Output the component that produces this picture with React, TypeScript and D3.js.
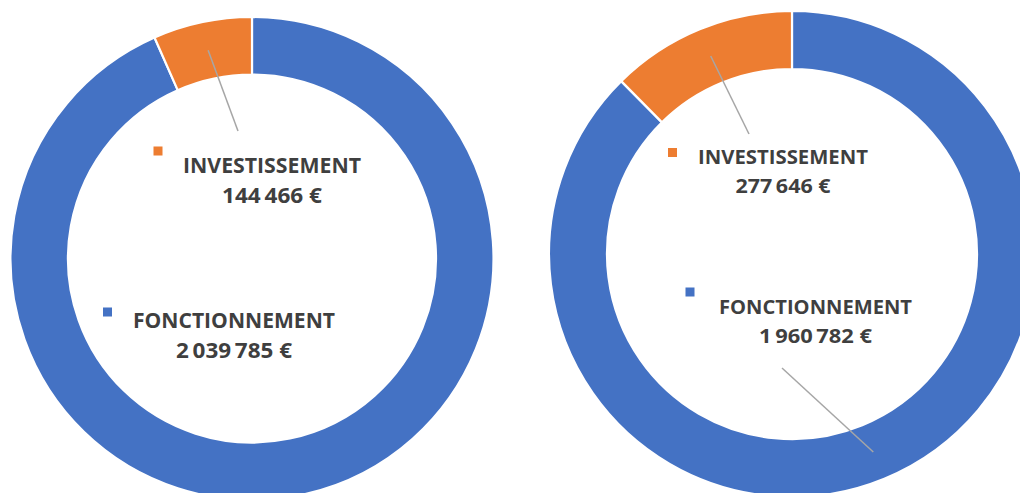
import React from "react";
import * as d3 from "d3";

const categories = ["FONCTIONNEMENT", "INVESTISSEMENT"];
const valuesLeft = [2039785, 144466];
const valuesRight = [1960782, 277646];
const colors = ["#4472C4", "#ED7D31"];

const fr = d3.formatLocale({
  decimal: ",",
  thousands: "\u2009",
  grouping: [3],
  currency: ["", "\u00a0€"],
});
const fmt = (v: number) => fr.format(",.0f")(v) + " €";

type LabelCfg = {
  cx: number;
  b1: number;
  b2: number;
  mx: number;
  my: number;
  w1: number;
  w2: number;
  leader: [number, number] | null;
};

type ChartCfg = {
  values: number[];
  cx: number;
  cy: number;
  rOuter: number;
  rInner: number;
  fontSize: number;
  labels: LabelCfg[];
};

const charts: ChartCfg[] = [
  {
    values: valuesLeft,
    cx: 252,
    cy: 258.5,
    rOuter: 241.5,
    rInner: 184,
    fontSize: 21,
    labels: [
      { cx: 234, b1: 328, b2: 358, mx: 103, my: 307.5, w1: 202, w2: 116, leader: null },
      { cx: 272, b1: 173, b2: 203, mx: 153.5, my: 146.5, w1: 178, w2: 100, leader: [238, 131] },
    ],
  },
  {
    values: valuesRight,
    cx: 792,
    cy: 254,
    rOuter: 243,
    rInner: 185,
    fontSize: 20.3,
    labels: [
      { cx: 815.5, b1: 314, b2: 343, mx: 685.5, my: 287.5, w1: 193, w2: 113, leader: [782, 368] },
      { cx: 783, b1: 164, b2: 193, mx: 668, my: 148, w1: 170, w2: 95, leader: [749, 134] },
    ],
  },
];

function Donut({ cfg }: { cfg: ChartCfg }) {
  const pie = d3
    .pie<number>()
    .sort(null)
    .value((d) => d)
    .startAngle(0)
    .endAngle(2 * Math.PI);
  const arcs = pie(cfg.values);
  const arc = d3
    .arc<d3.PieArcDatum<number>>()
    .innerRadius(cfg.rInner)
    .outerRadius(cfg.rOuter);
  return (
    <g>
      <g transform={`translate(${cfg.cx},${cfg.cy})`}>
        {arcs.map((a, i) => (
          <path key={i} d={arc(a) || ""} fill={colors[i]} stroke="#fff" strokeWidth={2.2} />
        ))}
      </g>
      {arcs.map((a, i) => {
        const L = cfg.labels[i];
        const c = arc.centroid(a);
        return (
          <g key={"l" + i}>
            {L.leader && (
              <line
                x1={cfg.cx + c[0]}
                y1={cfg.cy + c[1]}
                x2={L.leader[0]}
                y2={L.leader[1]}
                stroke="#A6A6A6"
                strokeWidth={1.5}
              />
            )}
            <rect x={L.mx} y={L.my} width={9} height={9} fill={colors[i]} />
            <text
              x={L.cx}
              y={L.b1}
              textAnchor="middle"
              fontFamily="'Open Sans', sans-serif"
              fontWeight={700}
              fontSize={cfg.fontSize}
              fill="#3f3f3f"
              textLength={L.w1}
              lengthAdjust="spacingAndGlyphs"
            >
              {categories[i]}
            </text>
            <text
              x={L.cx}
              y={L.b2}
              textAnchor="middle"
              fontFamily="'Open Sans', sans-serif"
              fontWeight={700}
              fontSize={cfg.fontSize}
              fill="#3f3f3f"
              textLength={L.w2}
              lengthAdjust="spacingAndGlyphs"
            >
              {fmt(cfg.values[i])}
            </text>
          </g>
        );
      })}
    </g>
  );
}

export default function App() {
  return (
    <svg
      width={1020}
      height={493}
      style={{ position: "absolute", left: 0, top: 0, background: "#fff", display: "block" }}
    >
      <rect width={1020} height={493} fill="#fff" />
      {charts.map((c, i) => (
        <Donut key={i} cfg={c} />
      ))}
    </svg>
  );
}
